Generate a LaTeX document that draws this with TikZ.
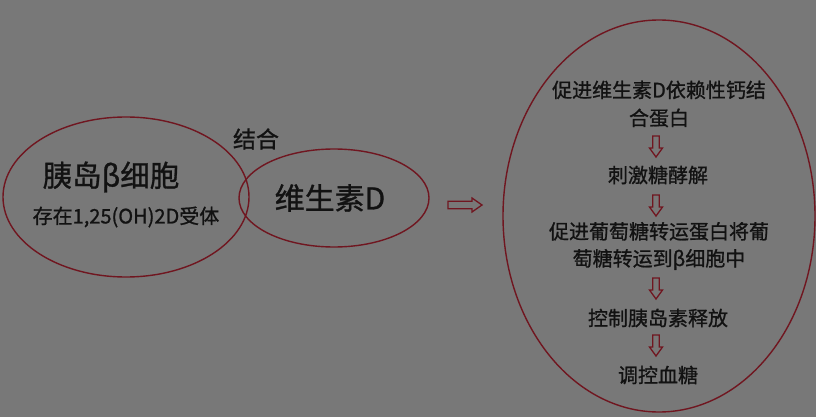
\documentclass[tikz,border=0pt]{standalone}
\usepackage{fontspec}
\newfontfamily\cjk{Noto Sans CJK SC}[RawFeature={embolden=1.0}]
\definecolor{bg}{RGB}{120,120,120}
\definecolor{ered}{RGB}{112,22,32}
\definecolor{txt}{RGB}{18,18,18}
\begin{document}
\begin{tikzpicture}[x=1pt,y=-1pt,
  ring/.style={draw=ered,line width=1.4pt},
  lbl/.style={text=txt,inner sep=0pt,font=\cjk},
  arrline/.style={draw=ered,line width=1.3pt,line join=miter},
  downarr/.pic={\draw[arrline] (-3.2,0) -- (-3.2,12) -- (-6.5,12) -- (0,21) -- (6.5,12) -- (3.2,12) -- (3.2,0) -- cycle;},
  rightarr/.pic={\draw[arrline] (0,-3.8) -- (24,-3.8) -- (24,-7) -- (34,0) -- (24,7) -- (24,3.8) -- (0,3.8) -- cycle;}
]
\fill[bg] (0,0) rectangle (816,417);
\useasboundingbox (0,0) rectangle (816,417);
% ellipses
\draw[ring] (126,197) ellipse [x radius=123, y radius=80];
\draw[ring] (334,198) ellipse [x radius=95, y radius=49];
\draw[ring] (659,216) ellipse [x radius=156, y radius=196];
% left texts
\node[lbl,font=\cjk\fontsize{29.5}{32}\selectfont] (cell) at (111,177) {胰岛β细胞};
\node[lbl,font=\cjk\fontsize{20}{23}\selectfont] (rec) at (126,217) {存在1,25(OH)2D受体};
\node[lbl,font=\cjk\fontsize{23}{26}\selectfont] (bind) at (256,139) {结合};
\node[lbl,font=\cjk\fontsize{30}{34}\selectfont] (vd) at (330,198) {维生素D};
\coordinate (ra) at (448,205);
\pic at (ra) {rightarr};
% right texts
\node[lbl,font=\cjk\fontsize{20}{28}\selectfont,align=center] (t1) at (659,104) {促进维生素D依赖性钙结\\合蛋白};
\coordinate (a1) at (656,136);
\pic at (a1) {downarr};
\node[lbl,font=\cjk\fontsize{20}{24}\selectfont] (t2) at (658,175) {刺激糖酵解};
\coordinate (a2) at (656,195);
\pic at (a2) {downarr};
\node[lbl,font=\cjk\fontsize{20}{27}\selectfont,align=center] (t3) at (659,246) {促进葡萄糖转运蛋白将葡\\萄糖转运到β细胞中};
\coordinate (a3) at (656,278);
\pic at (a3) {downarr};
\node[lbl,font=\cjk\fontsize{20}{24}\selectfont] (t4) at (658,318) {控制胰岛素释放};
\coordinate (a4) at (656,335);
\pic at (a4) {downarr};
\node[lbl,font=\cjk\fontsize{20}{24}\selectfont] (t5) at (658,375) {调控血糖};
\end{tikzpicture}
\end{document}
